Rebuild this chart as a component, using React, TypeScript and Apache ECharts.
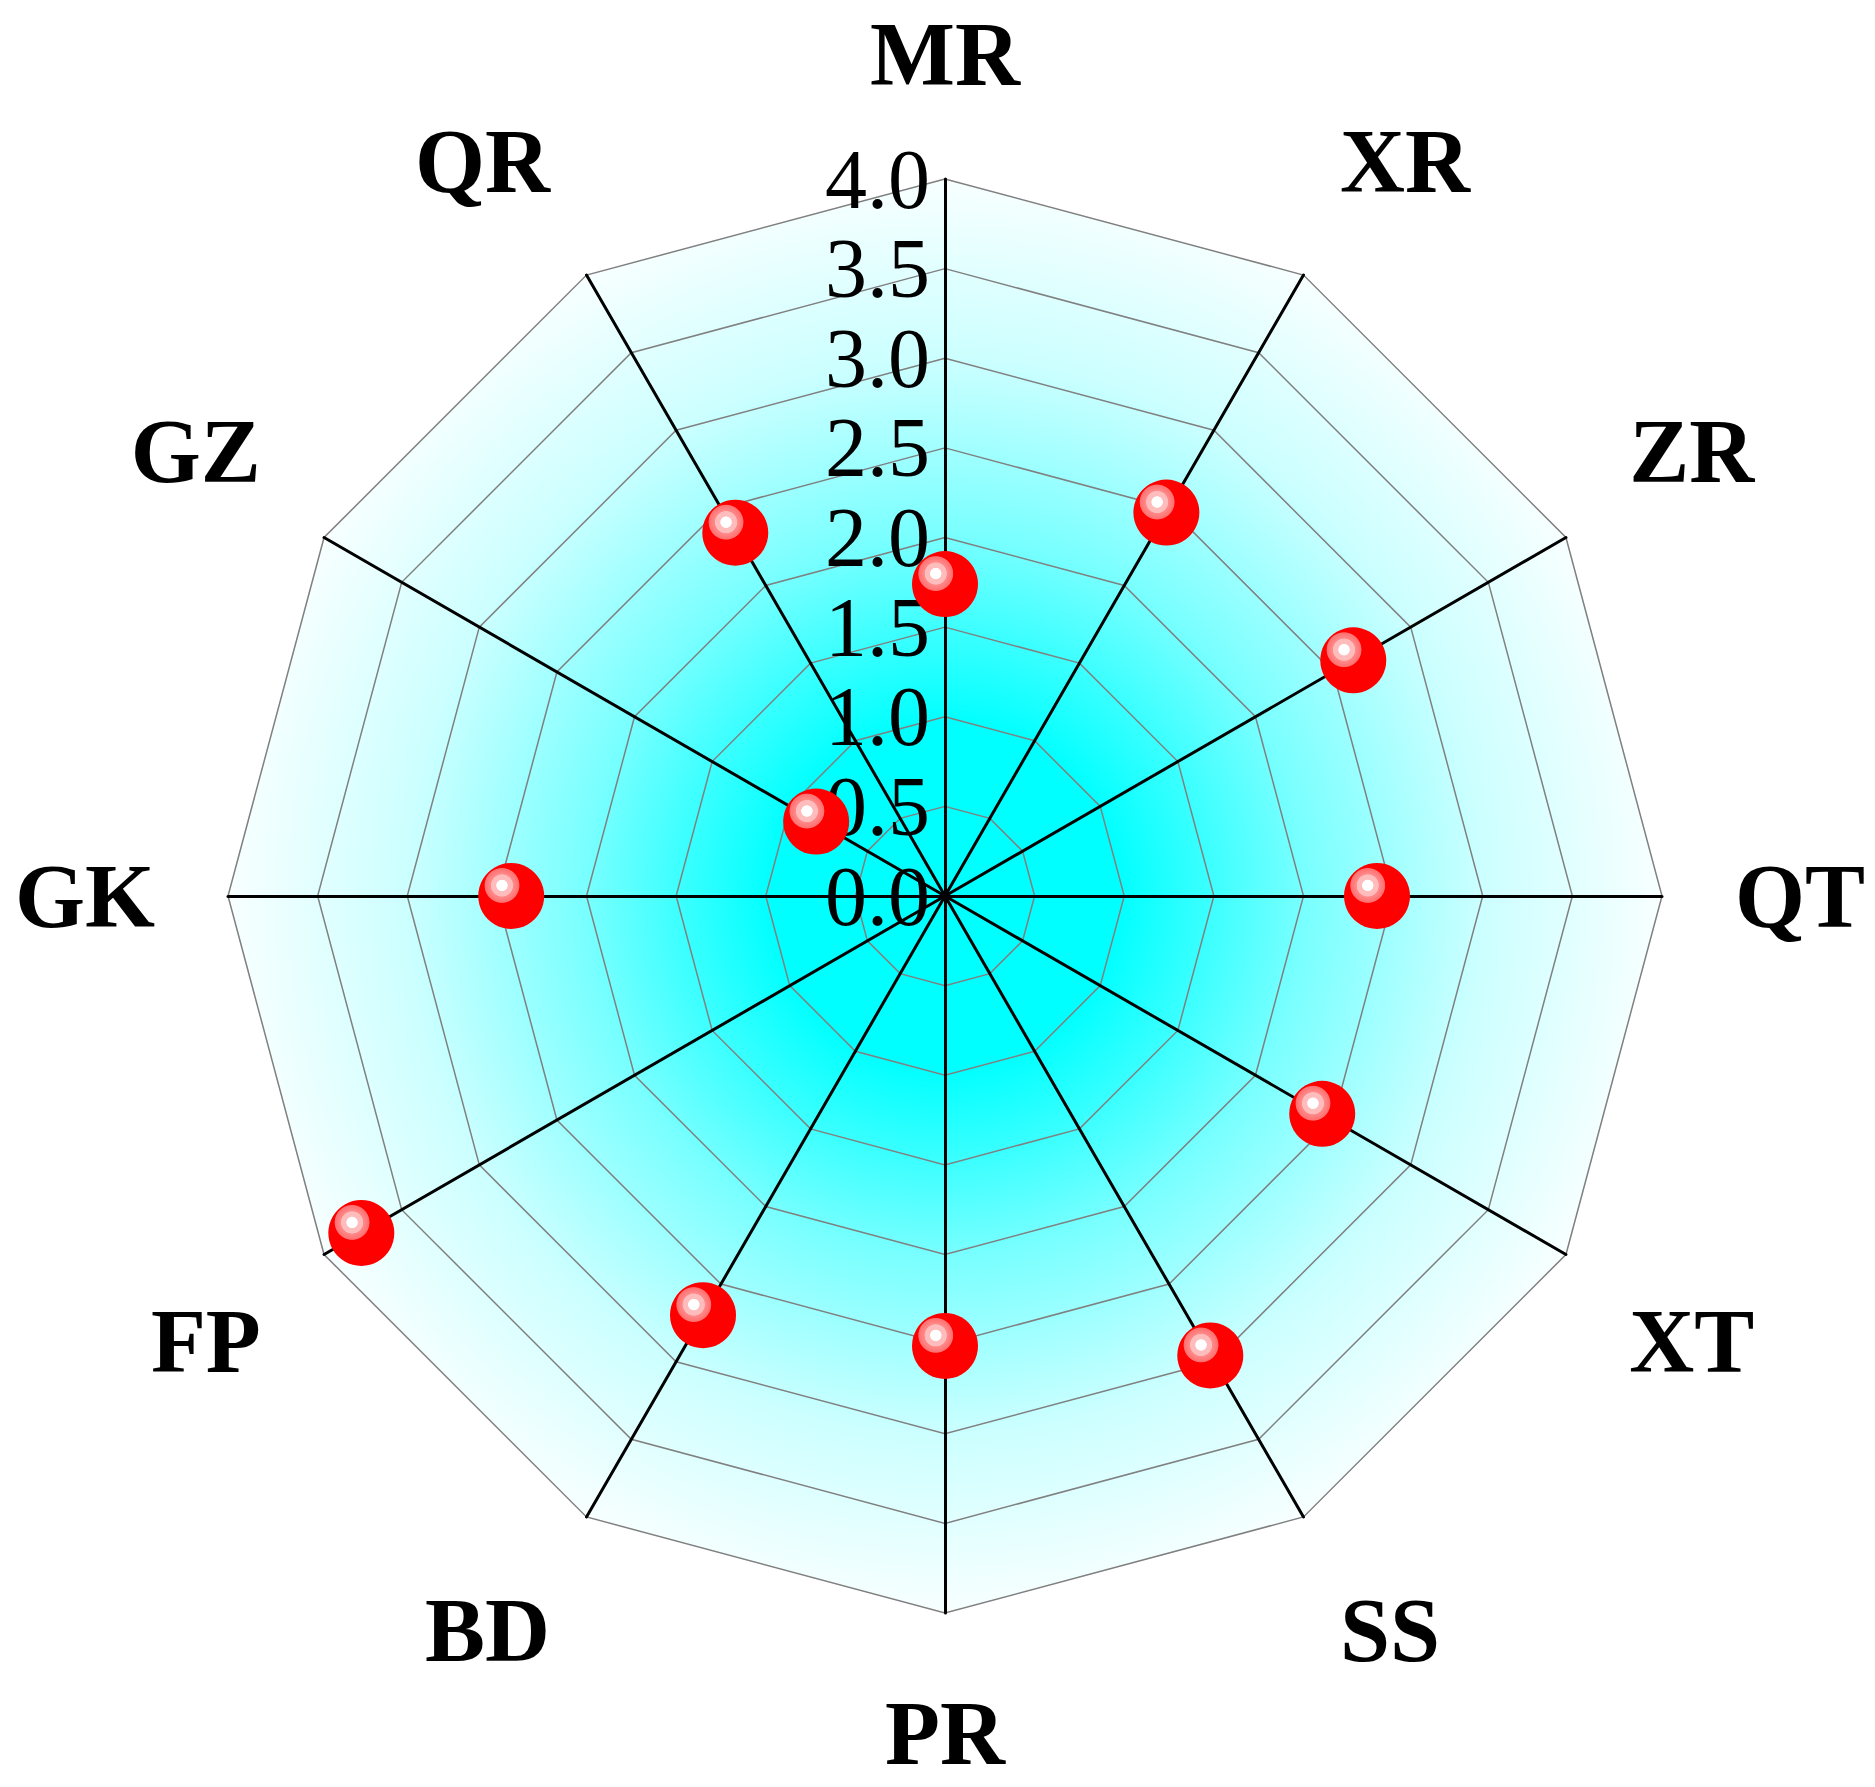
import React, { useEffect, useRef } from "react";
import * as echarts from "echarts";

// Indicators listed counter-clockwise starting from the top (ECharts radar order)
const indicatorNames = ["MR", "QR", "GZ", "GK", "FP", "BD", "PR", "SS", "XT", "QT", "ZR", "XR"];
const values = [1.74, 2.34, 0.83, 2.42, 3.76, 2.70, 2.51, 2.96, 2.43, 2.41, 2.63, 2.47];
const axisMax = 4;
const tickSplit = 8;

const W = 1875;
const H = 1787;
const CX = 945;
const CY = 896;
const R = 717;
const FONT = "Liberation Serif";

export default function App() {
  const ref = useRef<HTMLDivElement>(null);
  useEffect(() => {
    document.body.style.margin = "0";
    if (!ref.current) return;
    const chart = echarts.init(ref.current, undefined, { renderer: "svg" });
    const bg = new echarts.graphic.RadialGradient(
      CX,
      CY,
      R,
      [
        { offset: 0, color: "#00ffff" },
        { offset: 0.24, color: "#00ffff" },
        { offset: 0.5, color: "#78ffff" },
        { offset: 0.75, color: "#ccffff" },
        { offset: 1, color: "#f8ffff" },
      ],
      true
    );
    const sphere = new echarts.graphic.RadialGradient(0.36, 0.34, 0.27, [
      { offset: 0, color: "#ffffff" },
      { offset: 0.3, color: "#ffffff" },
      { offset: 0.34, color: "#ffbcbc" },
      { offset: 0.6, color: "#ffbcbc" },
      { offset: 0.64, color: "#ff8a8a" },
      { offset: 0.95, color: "#ff7070" },
      { offset: 1, color: "#ff0000" },
    ]);
    const n = indicatorNames.length;
    const placement: Record<string, string> = {};
    const indicator = indicatorNames.map((name, i) => {
      const ang = ((90 + (i * 360) / n) * Math.PI) / 180;
      const s = Math.sin(ang);
      const c = Math.cos(ang);
      const diagonal = Math.abs(s) > 0.1 && Math.abs(c) > 0.1;
      placement[name] = diagonal ? (s > 0 ? "up" : "down") : "axis";
      let nameGap = 73;
      if (i === 0) nameGap = 75;
      if (Math.abs(c) < 0.1 && s < 0) nameGap = 70;
      const item: any = { name, min: 0, max: axisMax, nameGap };
      if (i === 0) {
        item.axisLabel = {
          show: true,
          color: "#000000",
          fontFamily: FONT,
          fontSize: 84,
          margin: 15,
          align: "right",
          showMinLabel: true,
          showMaxLabel: true,
          formatter: (v: number) => v.toFixed(1),
        };
      }
      return item;
    });
    chart.setOption({
      animation: false,
      backgroundColor: "#ffffff",
      radar: {
        center: [CX, CY],
        radius: R,
        startAngle: 90,
        shape: "polygon",
        splitNumber: tickSplit,
        nameGap: 73,
        axisName: {
          color: "#000000",
          fontFamily: FONT,
          fontWeight: "bold",
          fontSize: 90,
          lineHeight: 100,
          formatter: (name: string) =>
            placement[name] === "up" ? name + "\n " : placement[name] === "down" ? " \n" + name : name,
        },
        indicator,
        axisLine: { lineStyle: { color: "#000000", width: 3 } },
        axisTick: { show: false },
        axisLabel: { show: false },
        splitLine: { lineStyle: { color: "#808080", width: 1.5 } },
        splitArea: { show: true, areaStyle: { color: [bg] } },
      },
      series: [
        {
          type: "radar",
          symbol: "circle",
          symbolSize: 66,
          itemStyle: { color: sphere, borderWidth: 0 },
          lineStyle: { width: 0, opacity: 0 },
          data: [{ value: values }],
        },
      ],
    });
    return () => chart.dispose();
  }, []);
  return <div ref={ref} style={{ width: W, height: H }} />;
}
